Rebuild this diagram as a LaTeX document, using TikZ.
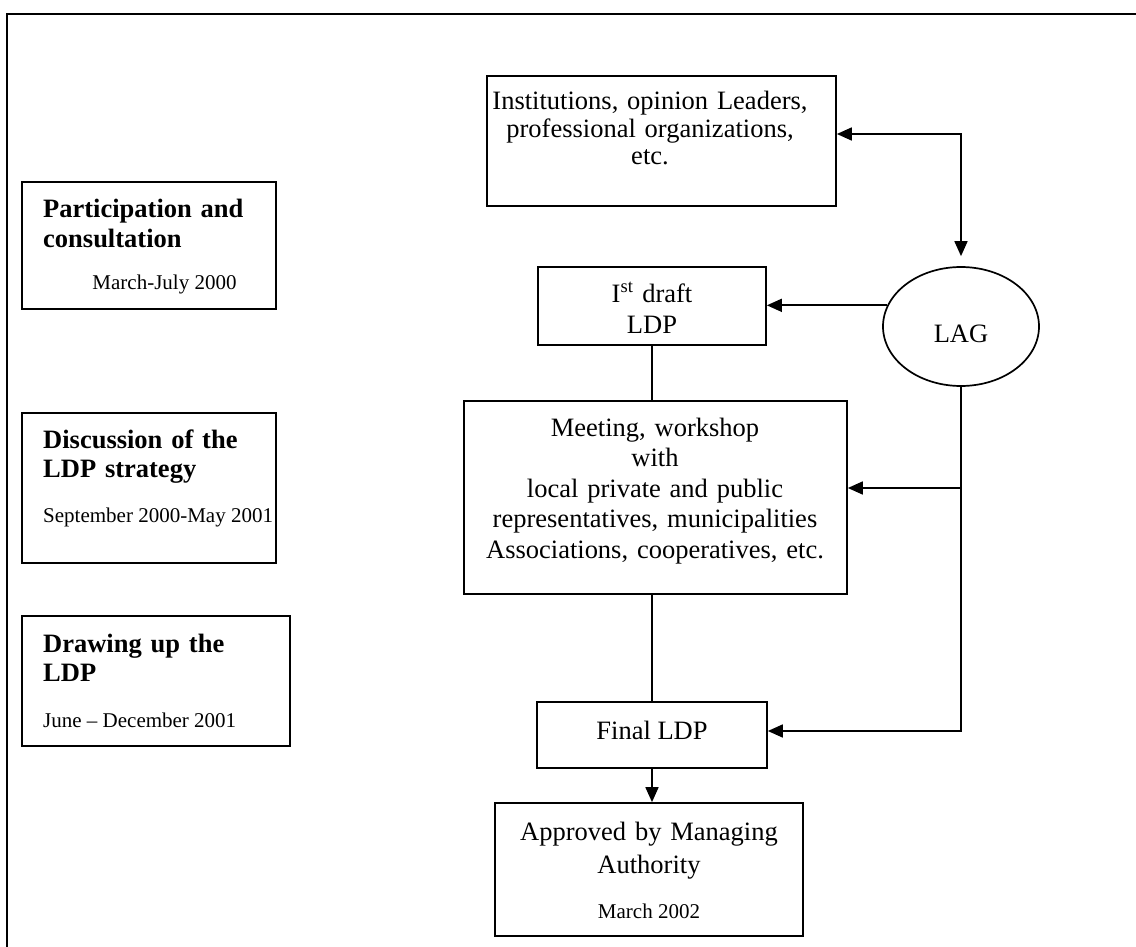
\documentclass[tikz,border=0pt]{standalone}
\usepackage{fontspec}
\setmainfont{Liberation Serif}
\usetikzlibrary{arrows.meta,shapes.geometric}
\begin{document}
\begin{tikzpicture}[x=1pt,y=-1pt,
  box/.style={draw, line width=1.7pt, inner sep=0pt, rectangle},
  txt/.style={inner sep=0pt, align=center, anchor=base, font=\fontsize{26.5}{27.5}\selectfont},
  head/.style={inner sep=0pt, align=left, anchor=base west, text width=240pt, font=\bfseries\fontsize{26.5}{29.5}\selectfont},
  datetxt/.style={inner sep=0pt, anchor=base, font=\fontsize{21}{24}\selectfont},
  con/.style={line width=1.7pt},
  arr/.style={-{Triangle[length=15pt,width=13pt]}},
  darr/.style={{Triangle[length=15pt,width=13pt]}-{Triangle[length=15pt,width=13pt]}}
]
\useasboundingbox (0,0) rectangle (1136,947);
% outer frame
\draw[line width=2.4pt] (7,947) -- (7,14) -- (1136,14);

% right column
\node[box, minimum width=349pt, minimum height=130pt] (A) at (661.5,141) {};
\node[txt, text width=340pt] (At) at (650,110) {Institutions, opinion Leaders,\\ professional organizations,\\ etc.};

\node[box, minimum width=228pt, minimum height=78pt] (D1) at (652,306) {};
\node[txt, text width=220pt, font=\fontsize{26.5}{31}\selectfont] (D1t) at (652,302) {I\textsuperscript{st} draft\\ LDP};

\node[box, minimum width=383pt, minimum height=193pt] (M) at (655.5,497.5) {};
\node[txt, text width=380pt, font=\fontsize{26.5}{30.5}\selectfont] (Mt) at (655,436) {Meeting, workshop\\ with\\ local private and public\\ representatives, municipalities\\ Associations, cooperatives, etc.};

\node[box, minimum width=230pt, minimum height=66pt] (F) at (652,735) {};
\node[txt] (Ft) at (652,739) {Final LDP};

\node[box, minimum width=308pt, minimum height=133pt] (AP) at (649,869.5) {};
\node[txt, text width=300pt, font=\fontsize{26.5}{33}\selectfont] (APt) at (649,840) {Approved by Managing\\ Authority};
\node[datetxt] (APd) at (649,918) {March 2002};

\node[draw, ellipse, line width=1.7pt, minimum width=156pt, minimum height=119pt, inner sep=0pt] (L) at (961,326.5) {};
\node[txt] (Lt) at (961,342) {LAG};

% left column
\node[box, minimum width=254pt, minimum height=127pt] (P) at (149,245.5) {};
\node[head] (Pt) at (43,218) {Participation and\\ consultation};
\node[datetxt] (Pd) at (164.5,289) {March-July 2000};

\node[box, minimum width=254pt, minimum height=150pt] (DS) at (149,488) {};
\node[head] (DSt) at (43,448) {Discussion of the\\ LDP strategy};
\node[datetxt, anchor=base west] (DSd) at (43,522) {September 2000-May 2001};

\node[box, minimum width=268pt, minimum height=130pt] (DR) at (156,681) {};
\node[head] (DRt) at (43,652) {Drawing up the\\ LDP};
\node[datetxt, anchor=base west] (DRd) at (43,727) {June – December 2001};

% connectors
\draw[con, darr] ([yshift=10pt]L.north) |- ([yshift=7pt]A.east);
\draw[con, arr] (L.164) -- (L.164 -| D1.east);
\coordinate (mj) at ([yshift=9.5pt]M.east);
\draw[con, arr] (L.south |- mj) -- (mj);
\coordinate (fj) at ([yshift=4pt]F.east);
\draw[con, arr] (L.south) |- (fj);
\draw[con] (D1.south) -- (D1.south |- M.north);
\draw[con] (M.south -| F.north) -- (F.north);
\draw[con, arr] (F.south) -- (F.south |- AP.north);
\end{tikzpicture}
\end{document}
